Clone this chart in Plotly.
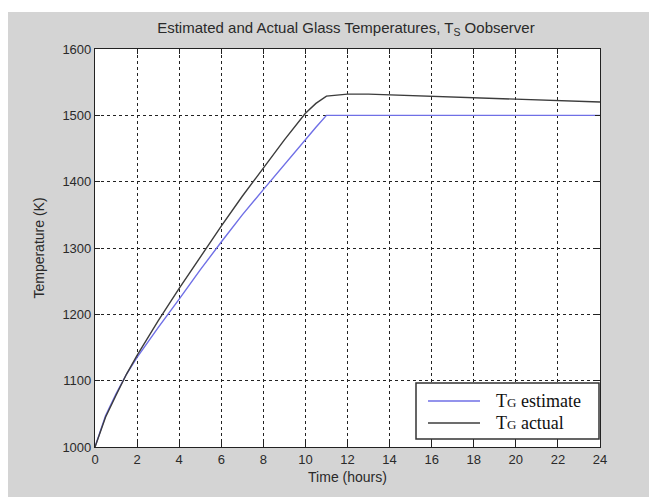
import plotly.graph_objects as go

# Time axis (hours)
hours = [0, 0.5, 1, 1.5, 2, 3, 4, 5, 6, 7, 8, 9, 10, 10.5, 11, 11.5, 12,
         13, 14, 15, 16, 17, 18, 19, 20, 21, 22, 23, 24]

# Observer estimate of glass temperature (K)
tg_estimate = [1000, 1047, 1080, 1110, 1135, 1180, 1223, 1267, 1309, 1350,
               1388, 1426, 1464, 1482, 1500, 1500, 1500,
               1500, 1500, 1500, 1500, 1500, 1500, 1500, 1500, 1500, 1500, 1500, 1500]

# Actual glass temperature (K)
tg_actual = [1000, 1045, 1078, 1110, 1138, 1190, 1239, 1287, 1333, 1378,
             1421, 1463, 1503, 1518, 1529, 1531, 1532,
             1532, 1531, 1530, 1529, 1528, 1527, 1525, 1524, 1523, 1522, 1521, 1520]

series_names = ["T<span style='font-size:13px'>G</span> estimate",
                "T<span style='font-size:13px'>G</span> actual"]
series_colors = ["#6f6fe6", "#3c3c3c"]

x_ticks = list(range(0, 25, 2))
y_ticks = list(range(1000, 1601, 100))

SANS = "Liberation Sans, Arial, sans-serif"
SERIF = "Liberation Serif, DejaVu Serif, serif"

fig = go.Figure()
for name, color, ys in zip(series_names, series_colors, [tg_estimate, tg_actual]):
    fig.add_trace(go.Scatter(
        x=hours, y=ys, mode="lines", name=name,
        line=dict(color=color, width=1.4), showlegend=False,
    ))

axis_common = dict(
    showline=True, linecolor="#222", linewidth=1.2, mirror="ticks",
    ticks="inside", ticklen=5, tickcolor="#222",
    showgrid=True, gridcolor="#222", gridwidth=1, griddash="dot",
    zeroline=False,
    tickfont=dict(family=SANS, size=13, color="#2a2a2a"),
    title_font=dict(family=SANS, size=14, color="#2a2a2a"),
)

fig.update_xaxes(range=[0, 24], tickvals=x_ticks, title_text="Time (hours)",
                 title_standoff=6, **axis_common)
fig.update_yaxes(range=[1000, 1600], tickvals=y_ticks, title_text="Temperature (K)",
                 title_standoff=14, **axis_common)

# Legend box drawn in paper coordinates (plot area spans 95..600 x 49..447 px)
def px_x(p):
    return (p - 95) / 505


def px_y(p):
    return (447 - p) / 398


shapes = [
    # white strips framing the gray panel
    dict(type="rect", xref="paper", yref="paper",
         x0=-0.2, x1=1.2, y0=px_y(12), y1=1.2,
         fillcolor="white", line=dict(width=0), layer="below"),
    dict(type="rect", xref="paper", yref="paper",
         x0=-0.2, x1=px_x(8), y0=-0.2, y1=1.2,
         fillcolor="white", line=dict(width=0), layer="below"),
    # legend frame
    dict(type="rect", xref="paper", yref="paper",
         x0=px_x(416), x1=px_x(599), y0=px_y(439), y1=px_y(383),
         fillcolor="white", line=dict(color="#333", width=1.5), layer="above"),
]
annotations = []
for i, (name, color) in enumerate(zip(series_names, series_colors)):
    row_y = px_y(401 + 22 * i)
    shapes.append(dict(type="line", xref="paper", yref="paper",
                       x0=px_x(428), x1=px_x(480), y0=row_y, y1=row_y,
                       line=dict(color=color, width=1.4), layer="above"))
    annotations.append(dict(xref="paper", yref="paper", x=px_x(494), y=row_y,
                            xanchor="left", yanchor="middle", showarrow=False,
                            text=name, font=dict(family=SERIF, size=18, color="#111")))

fig.update_layout(
    width=649, height=497,
    margin=dict(l=95, r=49, t=49, b=50),
    paper_bgcolor="#d4d4d4",
    plot_bgcolor="white",
    title=dict(
        text="Estimated and Actual Glass Temperatures, T<sub>S</sub> Oobserver",
        x=0.533, xanchor="center", y=0.945, yanchor="middle",
        font=dict(family=SANS, size=15, color="#2a2a2a"),
    ),
    showlegend=False,
    shapes=shapes,
    annotations=annotations,
)

fig.write_html("out.html")
